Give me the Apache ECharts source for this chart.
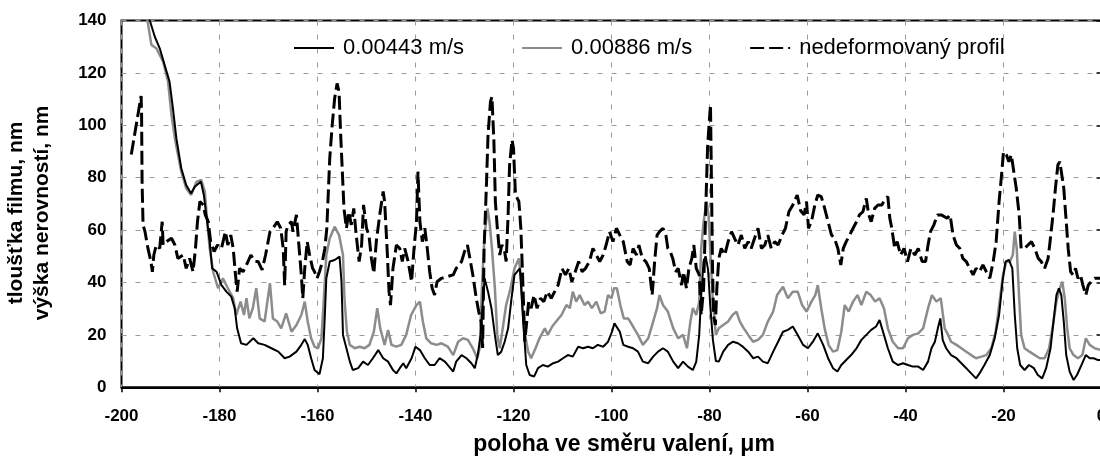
<!DOCTYPE html>
<html>
<head>
<meta charset="utf-8">
<script src="https://cdn.jsdelivr.net/npm/echarts@6/dist/echarts.min.js"></script>
<style>
  html, body { margin: 0; padding: 0; background: #fff; }
  #chart { width: 1100px; height: 461px; }
</style>
</head>
<body>
<div id="chart"></div>
<script>
// tick labels of the axes
const xTicks = [-200, -180, -160, -140, -120, -100, -80, -60, -40, -20, 0];
const yTicks = [0, 20, 40, 60, 80, 100, 120, 140];

// 0.00443 m/s (black solid)
const slowX = [-195.2, -194.25, -193.2, -192.2, -191.2, -190.2, -189.5, -188.8, -187.8, -186.8, -185.8, -185.0, -183.8, -183.2, -182.7, -182.0, -181.5, -180.6, -179.6, -178.6, -177.6, -176.9, -176.4, -175.6, -174.5, -173.1, -172.1, -170.8, -169.4, -168.0, -166.7,
  -165.7, -164.3, -163.3, -162.6, -162.0, -161.3, -160.6, -159.6, -158.9, -158.5, -158.2, -157.5, -156.5, -155.5, -155.1, -154.8, -154.1, -153.4, -152.8, -151.7, -150.7, -149.7, -148.7, -147.6, -146.6, -145.6, -144.6, -143.9, -143.2, -142.5, -141.9, -140.8, -140.0, -139.1, -138.1, -137.1, -136.1, -135.1, -134.0,
  -133.4, -132.3, -131.7, -130.6, -129.6, -128.6, -127.9, -127.3, -126.7, -126.2, -125.9, -125.2, -124.5, -123.8, -123.2, -122.5, -121.8, -121.1, -120.4, -119.8, -118.7, -118.1, -117.4, -116.7, -115.8, -115.0, -114.0, -113.0, -111.9, -110.9, -109.9, -108.9, -107.9, -106.8, -105.8, -104.8, -103.8, -102.8, -101.7, -100.7,
  -99.9, -99.4, -99.0, -98.3, -97.6, -96.6, -95.6, -94.6, -93.6, -92.5, -91.5, -90.5, -89.5, -88.5, -87.4, -86.4, -85.4, -84.4, -83.4, -82.7, -82.1, -81.7, -81.2, -80.8, -80.3, -79.8, -79.3, -78.7, -78.1, -77.2, -76.2, -75.2, -74.2, -73.2, -72.1, -71.1, -70.1, -69.1, -68.1, -67.0, -66.0,
  -65.0, -64.0, -63.0, -62.0, -60.9, -59.9, -58.9, -57.9, -56.8, -55.8, -54.8, -53.9, -53.1, -52.1, -51.1, -50.0, -49.0, -48.0, -47.0, -46.0, -45.3, -44.4, -43.6, -42.6, -41.5, -40.5, -39.5, -38.5, -37.4, -36.4, -35.4, -34.7, -34.0, -33.4, -32.9, -32.4, -31.7,
  -30.7, -29.6, -28.6, -27.6, -26.6, -25.6, -24.9, -23.9, -22.8, -21.8, -20.9, -20.2, -19.6, -18.9, -18.2, -17.7, -17.2, -16.6, -15.7, -14.8, -13.8, -13.0, -12.1, -11.3, -10.4, -9.8, -9.2, -8.7, -8.2, -7.7, -7.2, -6.5, -5.7, -5.0, -4.1, -3.2, -2.4, -1.6, -0.7, 0];
const slowY = [152, 140.2, 133.8, 129.4, 123, 116.7, 106.5, 95, 83.6, 77.2, 74, 76.6, 78.5, 73.4, 65.8, 55.6, 45.4, 44.1, 39, 36.5, 34.6, 30.2, 22.5, 16.8, 16.2, 18.7, 16.8, 16.2, 14.9, 13.6, 11.1,
  11.7, 13.6, 16.2, 18.4, 16.2, 11.1, 6.6, 5, 11.1, 27.6, 41.6, 48, 48.6, 49.9, 40.3, 20, 14.9, 9.8, 6.6, 7.3, 9.8, 8.5, 11.1, 14.2, 11.1, 9.8, 6.6, 5.3, 7.3, 9.2, 7.3, 11.1, 15.5, 14.2, 11.1, 8.5, 8.5, 11.1, 9.8,
  8.5, 6, 9.8, 12.3, 11.1, 9.2, 7.3, 12.3, 20, 34, 41.6, 36.5, 30.2, 20, 12.3, 13.6, 17.4, 22.5, 34, 42.9, 45.4, 27.6, 8.5, 4.7, 4.1, 7.3, 8.5, 7.9, 9.2, 9.8, 11.1, 12.3, 11.7, 15.5, 14.9, 15.5, 14.9, 16.2, 15.5, 17.4,
  21.2, 24.4, 25.1, 21.2, 16.2, 15.5, 14.9, 13.6, 9.8, 9.2, 11.7, 13.6, 14.9, 13.6, 9.8, 7.3, 9.8, 7.9, 6.6, 9.8, 20, 35, 48, 50, 45, 30, 18, 10, 9.8, 13.6, 16.2, 17.4, 16.8, 15.5, 13.6, 11.1, 11.7, 9.8, 9.2, 13.6, 17.4,
  21.2, 21.9, 23.2, 20, 16.2, 14.9, 17.4, 20.6, 16.2, 11.1, 7.3, 6, 8.5, 10.4, 12.3, 14.9, 18.1, 20, 21.9, 23.2, 25.7, 20, 14.9, 9.8, 8.5, 9.2, 8.5, 7.9, 7.9, 6.6, 9.8, 14.9, 17.4, 22.5, 26.3, 18, 14.9,
  12.3, 11.1, 9.2, 7.3, 5.3, 3.4, 5.3, 8.5, 12.3, 18.7, 27.6, 40.3, 48, 48.6, 45.4, 27.6, 14.9, 8.5, 6.6, 8.5, 7.3, 4.7, 3.4, 7.3, 14.9, 25.1, 35.2, 37.8, 35.2, 25.1, 12.3, 6, 2.8, 4.7, 8.5, 12.3, 11.1, 11.1, 10.4, 10.4];

// 0.00886 m/s (grey solid)
const fastX = [-195.6, -194.7, -193.9, -192.9, -191.5, -190.5, -189.8, -189.0, -187.8, -186.8, -185.8, -184.7, -183.7, -183.0, -182.5, -182.0, -181.3, -180.3, -179.3, -178.3, -177.2, -176.6, -175.7, -175.0, -174.5, -173.9, -173.2, -172.5, -171.8, -170.8, -169.7, -169.1, -168.2, -167.4,
  -166.4, -165.3, -164.3, -163.3, -162.6, -162.0, -161.3, -160.6, -159.9, -159.2, -158.7, -158.2, -157.5, -156.5, -155.6, -154.8, -154.5, -154.0, -153.4, -152.4, -151.4, -150.4, -149.4, -148.5, -147.8, -147.2, -146.3, -145.6, -144.9, -143.9, -142.9, -141.9, -140.9, -139.8, -139.1, -138.5, -137.8, -136.8, -135.7, -134.7,
  -133.4, -132.3, -131.3, -130.3, -129.3, -128.3, -127.4, -126.9, -126.4, -125.9, -125.3, -124.9, -124.4, -123.8, -123.3, -122.8, -122.1, -121.5, -120.6, -119.8, -118.9, -118.4, -117.9, -117.0, -116.4, -115.5, -114.7, -113.6, -113.0, -112.1, -111.3, -110.2, -109.2, -108.5, -107.9, -107.2, -106.5, -105.5, -104.8, -104.0, -103.1, -102.2, -101.4, -100.7, -100.0, -99.5,
  -98.9, -98.2, -97.5, -96.6, -95.6, -94.6, -93.6, -92.5, -91.5, -90.7, -90.2, -89.5, -88.5, -87.4, -86.4, -85.4, -84.6, -83.9, -83.4, -82.7, -82.1, -81.7, -81.2, -80.6, -80.2, -79.8, -79.3, -78.7, -78.1, -77.2, -76.2, -75.3, -74.5, -73.8, -73.0, -72.1, -71.1, -70.1, -69.1, -68.1, -67.0, -66.2,
  -65.0, -64.0, -63.0, -62.0, -61.1, -60.2, -59.2, -58.4, -57.9, -57.2, -56.5, -55.7, -54.8, -53.9, -53.1, -52.4, -51.6, -50.7, -49.8, -49.0, -48.0, -47.1, -46.2, -45.3, -44.4, -43.6, -42.6, -41.5, -40.5, -39.5, -38.5, -37.4, -36.4, -35.4, -34.6, -33.7, -32.8, -32.0,
  -31.3, -30.7, -29.6, -28.6, -27.6, -26.6, -25.6, -24.5, -23.5, -22.5, -21.6, -20.8, -20.1, -19.4, -18.7, -18.1, -17.7, -17.3, -16.8, -16.4, -15.7, -14.7, -13.6, -12.6, -11.6, -10.7, -9.9, -9.2, -8.5, -8.0, -7.5, -7.0, -6.5, -5.7, -4.8, -3.9, -3.2, -2.4, -1.4, 0];
const fastY = [152, 140, 130.7, 129.4, 124.3, 116.7, 104, 93.8, 82.3, 76, 73.4, 78.5, 79.1, 74.7, 63.2, 53, 44.1, 37.8, 41.6, 37.8, 34, 27.6, 32.7, 27.6, 34, 26.3, 30.2, 37.8, 26.3, 25.1, 39.7, 26.3, 25.1, 22.5,
  28.2, 21.2, 23.8, 27.6, 32.7, 25.1, 18.7, 15.5, 14.9, 18.7, 34, 50.5, 56.9, 61.3, 58.1, 50.5, 34, 21.2, 16.2, 14.9, 15.5, 14.9, 16.2, 21.2, 30.2, 22.5, 16.2, 21.9, 16.2, 15.5, 16.2, 20, 27.6, 31.4, 32.7, 25.1, 18.7, 16.8, 16.2, 16.8,
  15.5, 12.3, 17.4, 18.7, 18.1, 14.9, 11.1, 14.9, 40.3, 58.1, 68.3, 63.2, 53, 37.8, 20, 14.9, 23.8, 31.4, 37.8, 45.4, 49.2, 40.3, 22.5, 13.6, 11.1, 14.9, 18.7, 22.5, 20, 23.2, 25.1, 27.6, 31.4, 30.2, 36.5, 32.7, 35.2, 31.4, 32.7, 30.2, 32.7, 28.2, 28.9, 35.2, 34, 37.8,
  37.8, 31.4, 26.3, 26.3, 23.2, 20, 16.2, 18.7, 25.1, 30.2, 35.2, 31.4, 28.9, 22.5, 18.7, 20, 14.9, 25.1, 30.2, 27.6, 32.7, 53, 63.2, 70.9, 65.8, 50.5, 32.7, 20, 22.5, 23.8, 25.1, 27.6, 28.9, 25.1, 22.5, 20, 17.4, 18.1, 20, 25.1, 28.9, 35.2,
  38.4, 34, 36.5, 36.5, 31.4, 28.9, 32.7, 35.2, 39, 30.2, 22.5, 16.2, 13.6, 14.2, 21.2, 31.4, 28.9, 32.7, 35.2, 31.4, 36.5, 35.2, 32.7, 34, 30.2, 22.5, 17.4, 14.9, 14.9, 18.7, 20, 20.6, 22.5, 30.2, 35.2, 32.7, 34, 22.5,
  20, 17.4, 16.2, 14.9, 13.6, 12.3, 11.1, 11.7, 12.3, 14.9, 21.2, 32.7, 42.9, 48, 48, 50.5, 59.4, 53, 34, 20, 14.9, 13.6, 12.3, 11.1, 11.1, 14.9, 23.8, 32.7, 37.8, 40.3, 34, 22.5, 14.9, 12.3, 11.1, 12.3, 18.7, 16.2, 14.9, 14.2];

// nedeformovaný profil (black dashed)
const profX = [-198.0, -196.0, -195.9, -195.8, -195.6, -195.2, -194.6, -194.0, -193.7, -193.4, -192.9, -192.2, -191.7, -191.5, -190.8, -189.8, -189.1, -188.5, -187.4, -186.8, -186.1, -185.4, -184.9, -184.5, -184.0, -183.3, -182.9, -182.3, -181.8, -181.1, -180.4, -179.6, -178.8, -178.3, -177.7, -177.2, -176.8, -176.4, -175.9, -175.2, -174.5, -173.6, -172.8, -172.1, -171.3, -170.6, -169.7, -169.1, -168.2, -167.5, -167.0, -166.7, -166.4,
  -166.0, -165.3, -165.0, -164.3, -163.8, -163.3, -163.0, -162.6, -162.1, -161.6, -161.0, -160.6, -160.1, -159.6, -159.0, -158.5, -158.1, -157.5, -157.0, -156.5, -156.0, -155.6, -155.3, -154.9, -154.6, -154.1, -153.6, -153.1, -152.6, -152.1, -151.5, -151.0, -150.6, -150.0, -149.5, -149.0, -148.5, -148.0, -147.3, -146.6, -146.3, -145.8, -145.4, -145.1, -144.6, -143.9, -143.2, -142.7, -142.2, -141.5, -140.8, -140.3, -139.8, -139.5, -139.1, -138.6, -138.1, -137.6, -137.1, -136.6, -136.1, -135.6, -134.7, -133.7,
  -132.3, -131.7, -130.6, -130.0, -129.4, -128.9, -128.3, -127.6, -127.1, -126.6, -126.3, -126.0, -125.5, -125.2, -124.7, -124.4, -124.0, -123.7, -123.3, -122.8, -122.4, -121.9, -121.5, -121.1, -120.8, -120.3, -120.0, -119.6, -118.9, -118.5, -118.1, -117.7, -117.3, -116.9, -116.4, -115.8, -115.2, -114.5, -113.8, -113.1, -112.3, -111.6, -110.9, -110.1, -109.4, -108.7, -108.1, -107.4, -106.7, -106.0, -105.3, -104.5, -103.8, -103.1, -102.4, -101.7, -101.1, -100.4, -99.7, -99.0,
  -98.3, -97.6, -96.8, -96.2, -95.6, -94.9, -94.4, -93.7, -93.0, -92.3, -91.7, -91.2, -90.7, -90.2, -89.5, -88.9, -88.5, -88.0, -87.5, -86.9, -86.4, -85.7, -85.3, -84.7, -84.2, -83.6, -83.2, -82.7, -82.1, -81.7, -81.2, -80.8, -80.4, -80.1, -79.8, -79.6, -79.4, -79.2, -78.8, -78.5, -78.1, -77.6, -76.9, -76.2, -75.5, -74.9, -74.2, -73.5, -72.8, -72.1, -71.5, -70.8, -70.1, -69.4, -68.7, -68.1, -67.4, -66.7, -66.0,
  -65.2, -64.5, -63.8, -63.0, -62.1, -61.4, -60.7, -60.2, -59.8, -59.2, -58.5, -57.9, -57.2, -56.5, -55.8, -55.1, -54.5, -53.8, -53.2, -52.7, -52.1, -51.4, -50.7, -50.0, -49.4, -48.7, -48.0, -47.5, -47.0, -46.3, -45.6, -44.8, -44.3, -43.6, -43.2, -42.8, -42.2, -41.7, -41.0, -40.3, -39.6, -38.9, -38.1, -37.4, -36.6, -35.9, -35.4, -34.9, -34.2, -33.5, -32.7,
  -31.5, -30.9, -30.3, -29.6, -28.9, -28.3, -27.6, -26.9, -26.2, -25.6, -24.9, -24.2, -23.5, -22.8, -22.1, -21.5, -20.9, -20.4, -20.0, -19.4, -18.9, -18.4, -17.9, -17.4, -16.8, -16.4, -15.7, -15.0, -14.3, -13.6, -12.9, -12.3, -11.6, -10.9, -10.5, -9.9, -9.4, -8.9, -8.5, -8.1, -7.7, -7.3, -6.8, -6.3, -5.8, -5.3, -4.8, -4.3, -3.8, -3.2, -2.7, -2.1, -1.4, -0.7, 0];
const profY = [88.9, 111.2, 104, 78.5, 62, 59.4, 53, 48, 44.1, 50.5, 54.3, 53, 63.2, 54.3, 55.6, 56.9, 54.3, 49.2, 50.5, 45.4, 49.2, 44.1, 53, 63.2, 70.9, 69.6, 65.8, 63.2, 55.6, 51.8, 54.3, 53, 59.4, 54.3, 58.1, 53, 44.1, 36.5, 45.4, 44.1, 46.7, 50.5, 48, 48, 44.8, 50.5, 59.4, 60.7, 63.2, 60.7, 53, 39, 59.4,
  62, 63.2, 59.4, 65.8, 54.3, 42.9, 34, 45.4, 55.6, 50.5, 45.4, 44.1, 41.6, 44.1, 48, 53, 60.7, 87.4, 100.1, 110.3, 116, 112.8, 97.6, 81, 68.3, 60.7, 67, 62, 68.3, 58.1, 48, 54.3, 69.6, 60.7, 58.1, 49.2, 43.5, 55.6, 65.8, 74.7, 70.9, 53, 36.5, 31.4, 45.4, 54.3, 53, 48, 53, 48, 40.3, 53, 63.2, 82.3, 63.2, 55.6, 60.7, 53, 44.1, 37.8, 35.2, 40.3, 41.6, 42.2,
  42.9, 45.4, 48, 51.8, 54.3, 49.2, 42.9, 34, 28.9, 25.1, 15, 53, 78.5, 96.3, 109, 110.9, 93.8, 70.9, 60.7, 50.5, 54.3, 53, 48, 65.8, 84.9, 94.4, 91.2, 73.4, 70.9, 60.7, 40.3, 17.4, 25.1, 32.7, 30.2, 35.2, 30.2, 34, 32.7, 36.5, 34, 36.5, 39, 45.4, 42.9, 45.4, 40.3, 44.1, 48, 44.1, 45.4, 48, 53, 50.5, 48, 50.5, 54.3, 59.4, 55.6, 60.7,
  58.1, 55.6, 48, 46.7, 53, 50.5, 54.3, 49.2, 48, 45.4, 35.2, 48, 58.1, 59.4, 60.7, 58.1, 53, 51.8, 49.2, 44.1, 45.4, 39, 44.1, 37.8, 45.4, 49.2, 54.3, 45.4, 42.9, 27.6, 37.8, 65.8, 91.2, 100.1, 107.8, 78.5, 48, 27.6, 23.8, 37.8, 49.2, 53, 50.5, 55.6, 59.4, 56.9, 54.3, 58.1, 53, 55.6, 53, 56.9, 60.7, 53, 54.3, 58.1, 53, 55.6, 54.3,
  58.1, 60.7, 67, 69.6, 73.4, 67.4, 65.8, 70.9, 60.7, 63.2, 69.6, 73.4, 72.8, 68.3, 63.2, 58.1, 56.9, 53, 46.7, 53, 55.6, 58.1, 60.7, 63.2, 65.8, 67, 72.1, 65.8, 63.2, 68.3, 69.6, 69.6, 71.5, 72.8, 64.5, 60.7, 53, 55.6, 50.5, 53, 48, 53, 50.5, 53, 48, 48, 54.3, 59.4, 62, 65.8, 65.8,
  64.5, 65.8, 58.1, 54.3, 53, 49.2, 48, 45.4, 42.9, 45.4, 44.1, 46.7, 44.1, 41.6, 48, 55.6, 70.9, 81, 89.9, 88.7, 86.1, 88.7, 82.3, 76, 65.8, 53, 53, 54.3, 55.6, 53, 49.2, 48, 45.4, 49.2, 55.6, 65.8, 76, 84.9, 86.1, 81, 76, 65.8, 53, 44.1, 42.9, 45.4, 41.6, 42.9, 39, 35.2, 39, 40.3, 41.6, 41.6, 41.6];

const seriesNames = ['0.00443 m/s', '0.00886 m/s', 'nedeformovaný profil'];

const pair = (xs, ys) => xs.map((x, i) => [x, ys[i]]);

const font = 'Arial, "Liberation Sans", sans-serif';

const chart = echarts.init(document.getElementById('chart'), null, { renderer: 'canvas' });

chart.setOption({
  animation: false,
  backgroundColor: '#fff',
  grid: {
    left: 121.5,
    top: 20.5,
    right: -1.5,
    bottom: 73.7,
    containLabel: false,
    outerBoundsMode: 'none',
    show: true,
    borderColor: '#000',
    borderWidth: 2
  },
  legend: {
    left: 288,
    top: 32,
    itemWidth: 40,
    itemHeight: 4,
    itemGap: 57,
    data: seriesNames,
    itemStyle: { opacity: 0 },
    textStyle: { fontFamily: font, fontSize: 22, color: '#000', padding: [0, 0, 0, 4] }
  },
  xAxis: {
    type: 'value',
    min: xTicks[0],
    max: xTicks[xTicks.length - 1],
    interval: 20,
    name: 'poloha ve směru valení, μm',
    nameLocation: 'middle',
    nameGap: 46,
    nameTextStyle: { fontFamily: font, fontSize: 23, fontWeight: 'bold', color: '#000', padding: [0, 0, 0, 25] },
    axisLine: { lineStyle: { color: '#000', width: 2 } },
    axisTick: { show: true, length: 5, lineStyle: { color: '#000', width: 1.5 } },
    axisLabel: { fontFamily: font, fontSize: 17, fontWeight: 'bold', color: '#000', margin: 21 },
    splitLine: { show: true, lineStyle: { color: '#9a9a9a', type: [5, 9], width: 1 } }
  },
  yAxis: {
    type: 'value',
    min: yTicks[0],
    max: yTicks[yTicks.length - 1],
    interval: 20,
    name: 'tloušťka filmu, nm\nvýška nerovností, nm',
    nameLocation: 'middle',
    nameRotate: 90,
    nameGap: 66,
    nameTextStyle: { fontFamily: font, fontSize: 21, fontWeight: 'bold', color: '#000', lineHeight: 26, padding: [0, 18, 0, 0] },
    axisLine: { lineStyle: { color: '#000', width: 2 } },
    axisTick: { show: true, length: 5, lineStyle: { color: '#000', width: 1.5 } },
    axisLabel: { fontFamily: font, fontSize: 17, fontWeight: 'bold', color: '#000', margin: 15 },
    splitLine: { show: true, lineStyle: { color: '#9a9a9a', type: [5, 9], width: 1 } }
  },
  series: [
    {
      name: seriesNames[0],
      type: 'line',
      z: 3,
      symbol: 'none',
      clip: true,
      data: pair(slowX, slowY),
      lineStyle: { color: '#000', width: 2 },
      itemStyle: { color: '#000' }
    },
    {
      name: seriesNames[1],
      type: 'line',
      z: 2,
      symbol: 'none',
      clip: true,
      data: pair(fastX, fastY),
      lineStyle: { color: '#8c8c8c', width: 2.5 },
      itemStyle: { color: '#8c8c8c' }
    },
    {
      name: seriesNames[2],
      type: 'line',
      z: 4,
      symbol: 'none',
      clip: true,
      data: pair(profX, profY),
      lineStyle: { color: '#000', width: 3, type: [14, 5] },
      itemStyle: { color: '#000' }
    }
  ]
});
</script>
</body>
</html>
